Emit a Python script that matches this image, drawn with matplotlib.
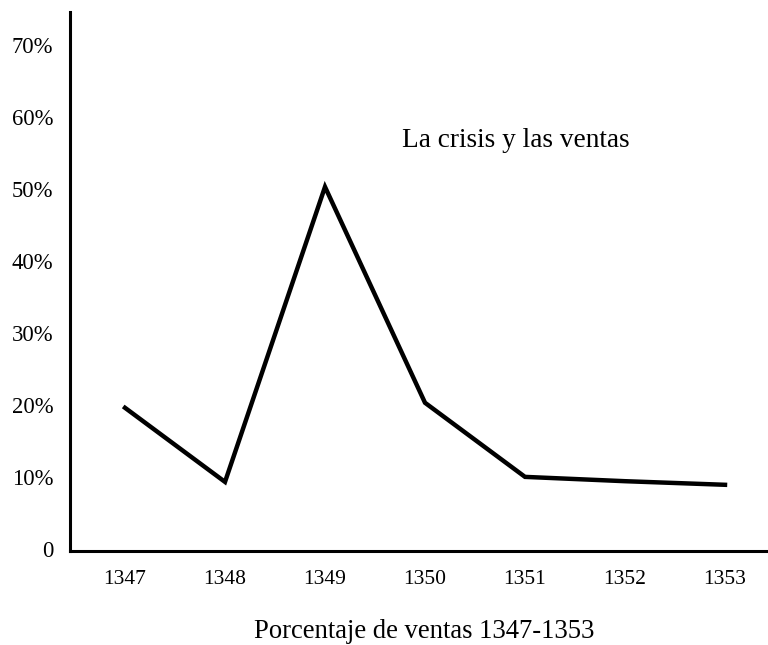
import matplotlib
matplotlib.use("Agg")
import matplotlib.pyplot as plt

years = [1347, 1348, 1349, 1350, 1351, 1352, 1353]
ventas = [19.6, 9.3, 50.3, 20.3, 10.0, 9.4, 8.9]
ytick_vals = [0, 10, 20, 30, 40, 50, 60, 70]
ytick_labels = ["0", "10%", "20%", "30%", "40%", "50%", "60%", "70%"]
title = "La crisis y las ventas"
xlabel = "Porcentaje de ventas 1347-1353"

plt.rcParams['font.family'] = ['Liberation Serif', 'DejaVu Serif']

W, H = 768, 645
fig = plt.figure(figsize=(W / 100, H / 100), dpi=100)
ax = fig.add_axes([70 / W, (H - 551) / H, 698 / W, (551 - 12) / H])

ax.plot(years, ventas, color='black', lw=3.2, solid_joinstyle='miter')

ax.set_xlim(1346.45, 1353.43)
ax.set_ylim(-0.3, 74.6)
ax.set_xticks(years)
ax.set_xticklabels([str(y) for y in years], fontsize=15.5)
ax.set_yticks(ytick_vals)
ax.set_yticklabels(ytick_labels, fontsize=16.3)
ax.tick_params(axis='both', length=0)
ax.tick_params(axis='x', pad=14)
ax.tick_params(axis='y', pad=12)

for s in ['top', 'right']:
    ax.spines[s].set_visible(False)
for s in ['left', 'bottom']:
    ax.spines[s].set_linewidth(2.2)

ax.text(1349.77, 56.8, title, fontsize=19.6, ha='left', va='center')
fig.text(424 / W, 1 - 631 / H, xlabel, fontsize=19.2, ha='center', va='center')

fig.savefig("out.png", dpi=100)
